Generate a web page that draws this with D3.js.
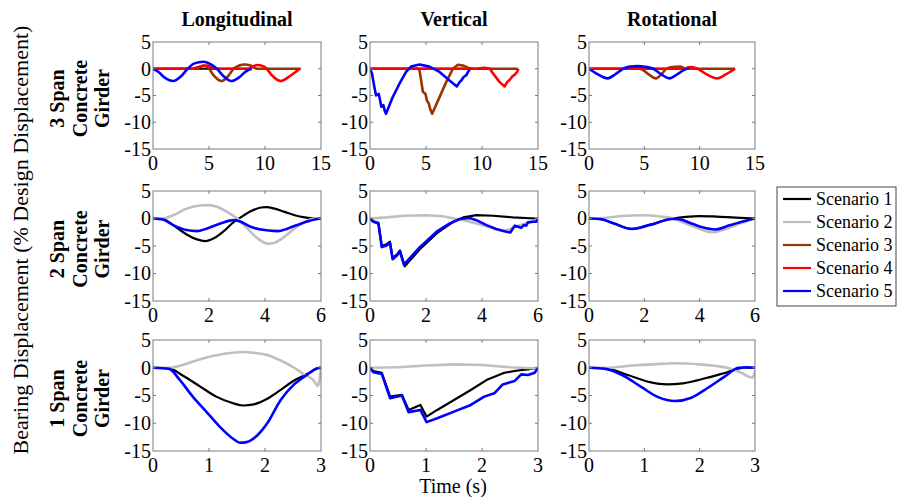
<!DOCTYPE html>
<html>
<head>
<meta charset="utf-8">
<script src="https://cdn.jsdelivr.net/npm/d3@7"></script>
<style>
body { margin: 0; background: #fff; }
</style>
</head>
<body>
<svg id="chart" width="898" height="497"></svg>
<script>
// ---- data: [time (s), displacement (% design)] ----
const scenarioNames = ["Scenario 1", "Scenario 2", "Scenario 3", "Scenario 4", "Scenario 5"];
const scenarioColors = ["#000000", "#bfbfbf", "#993300", "#ff0000", "#0000ff"];
const columnTitles = ["Longitudinal", "Vertical", "Rotational"];
const rowLabels = [["3 Span", "Concrete", "Girder"], ["2 Span", "Concrete", "Girder"], ["1 Span", "Concrete", "Girder"]];
const rowTimeMax = [15, 6, 3];
const rowTimeTicks = [[0, 5, 10, 15], [0, 2, 4, 6], [0, 1, 2, 3]];
const yTicks = [5, 0, -5, -10, -15];

// 3 span
const span3Long1 = [[0,0],[4,0],[8.8,0]];
const span3Long3 = [[0,0],[3.8,0],[4.5,0.6],[4.9,0.3],[5.4,-1.2],[6.1,-2.3],[6.7,-1.4],[7.2,0],[7.7,0.6],[8.2,0.8],[8.7,0.6],[9.3,0],[13.2,0]];
const span3Long4 = [[0,0],[3.5,0],[4.2,0.4],[4.8,0.6],[5.3,0.2],[5.8,0],[8.5,0],[9.3,0.7],[10,0.3],[10.6,-1.2],[11.4,-2.3],[12.2,-1.4],[13.1,0]];
const span3Long5 = [[0,0],[0.5,-0.6],[1,-1.6],[1.8,-2.3],[2.5,-1.4],[3.1,0],[3.7,1],[4.5,1.3],[5.1,0.9],[5.7,0],[6.3,-1.4],[7,-2.3],[7.7,-1.6],[8.3,-0.5],[8.8,0]];

const span3Vert1 = [[0,0],[4,0],[8.9,0]];
const span3Vert3 = [[0,0],[4.3,0],[4.42,-0.3],[4.57,-2.2],[4.72,-4.3],[4.96,-4.7],[5.07,-5.9],[5.25,-6.5],[5.37,-7.5],[5.55,-8.4],[6.21,-5.3],[6.8,-2.5],[7.4,0],[7.85,0.75],[8.3,0.6],[8.75,0.2],[9.19,0],[13.2,0]];
const span3Vert4 = [[0,0],[9.5,0],[10.2,0.2],[10.7,0],[10.99,-0.9],[11.58,-2.5],[12.03,-3.3],[12.24,-2.5],[12.48,-2.05],[12.72,-1.4],[12.93,-1.1],[13.13,-0.6],[13.22,-0.2],[13.25,0]];
const span3Vert5 = [[0,0],[0.18,-0.9],[0.39,-3.4],[0.54,-5],[0.78,-4.7],[0.9,-5.9],[1.01,-7.1],[1.19,-6.8],[1.31,-7.8],[1.43,-8.4],[2.03,-5.3],[2.63,-2.8],[3.22,-0.6],[3.67,0.4],[4.42,0.8],[5.31,0.4],[6.21,-0.6],[7.1,-2.2],[7.76,-3.3],[8,-2.5],[8.15,-2.2],[8.36,-1.55],[8.6,-1.2],[8.75,-0.6],[8.9,-0.2]];

const span3Rot1 = [[0,0],[4,0],[9,0]];
const span3Rot3 = [[0,0],[4.6,0],[5.3,-0.9],[6.05,-1.8],[6.6,-0.9],[7,0],[7.5,0.3],[8.2,0.4],[8.8,0],[13.2,0]];
const span3Rot4 = [[0,0],[3.8,0],[4.4,0.3],[5,0],[8.6,0],[9.1,0.3],[9.7,0.1],[10.6,-1],[11.6,-1.8],[12.4,-1],[13.2,0]];
const span3Rot5 = [[0,0],[0.6,-0.8],[1.7,-1.8],[2.4,-1],[3.1,0],[3.7,0.4],[4.4,0.5],[5.1,0.35],[5.8,0],[6.5,-1],[7.25,-1.8],[8,-1],[8.6,-0.2],[9,0.1]];

// 2 span
const span2Long1 = [[0,0],[0.36,-0.1],[0.72,-1.2],[1.2,-2.9],[1.57,-3.8],[1.87,-4.1],[2.17,-3.6],[2.53,-2.3],[2.89,-0.6],[3.13,0.2],[3.49,1.3],[3.86,2],[4.04,2.07],[4.34,1.8],[4.7,1.2],[5.06,0.6],[5.42,0.2],[5.78,0],[6,0]];
const span2Long2 = [[0,0],[0.36,0],[0.72,0.6],[1.2,1.8],[1.69,2.37],[1.99,2.43],[2.29,2.13],[2.65,1.2],[3.01,0],[3.37,-1.8],[3.73,-3.6],[4.1,-4.56],[4.34,-4.4],[4.7,-3.3],[5.06,-1.8],[5.42,-0.6],[5.78,0],[6,0]];
const span2Long5 = [[0,0],[0.36,-0.2],[0.72,-1.2],[1.2,-2.1],[1.57,-2.3],[1.93,-1.8],[2.41,-0.9],[2.89,-0.3],[3.13,-0.6],[3.49,-1.5],[3.98,-2.1],[4.46,-2.3],[4.82,-1.8],[5.3,-0.9],[5.78,-0.2],[6,0]];

const span2Vert1 = [[0,0],[0.12,-0.5],[0.3,-0.8],[0.42,-5],[0.59,-4.7],[0.71,-4.2],[0.81,-7.2],[0.97,-6.5],[1.07,-5.8],[1.24,-8.7],[1.78,-5.6],[2.38,-2.7],[2.97,-0.6],[3.33,0.2],[3.8,0.6],[4.4,0.5],[5.1,0.2],[5.9,0],[6,0]];
const span2Vert2 = [[0,0],[0.6,0.2],[1.2,0.5],[2,0.6],[2.6,0.4],[3,0],[3.5,-0.5],[4,-1.2],[4.4,-1.8],[4.75,-2.3],[5,-1.9],[5.3,-1.3],[5.6,-0.8],[6,-0.3]];
const span2Vert5 = [[0,0],[0.12,-0.6],[0.3,-0.9],[0.42,-5.2],[0.59,-4.9],[0.71,-4.4],[0.81,-7.4],[0.97,-6.7],[1.07,-6],[1.21,-8.4],[1.78,-5.2],[2.38,-2.4],[2.85,-0.9],[3.21,-0.1],[3.56,0.1],[3.8,-0.3],[4.16,-1.2],[4.51,-1.9],[4.87,-2.4],[5.01,-2.55],[5.17,-1.3],[5.29,-1.5],[5.4,-1.7],[5.49,-1.2],[5.58,-1.3],[5.64,-0.7],[5.82,-0.6],[5.94,-0.6],[6,0]];

const span2Rot1 = [[0,0],[0.4,-0.1],[0.9,-0.9],[1.55,-1.9],[2.2,-1.1],[3.05,0],[3.5,0.3],[4,0.45],[4.6,0.35],[5.3,0.15],[6,0]];
const span2Rot2 = [[0,0],[0.5,0.1],[1.2,0.45],[2,0.6],[2.6,0.35],[3.05,0],[3.5,-0.9],[4,-1.9],[4.45,-2.5],[4.9,-2],[5.4,-1],[6,0]];
const span2Rot5 = [[0,0],[0.4,-0.1],[0.9,-0.9],[1.55,-1.9],[2.2,-1.2],[3,-0.1],[3.2,-0.1],[3.7,-0.9],[4.1,-1.6],[4.55,-2],[5.1,-1.2],[5.6,-0.5],[6,0]];

// 1 span
const span1Long1 = [[0,0],[0.29,-0.1],[0.53,-1.4],[0.83,-3.3],[1.13,-5.2],[1.43,-6.4],[1.61,-6.8],[1.8,-6.6],[2.04,-5.6],[2.28,-4],[2.52,-2.3],[2.76,-1.1],[2.97,0],[3,0]];
const span1Long2 = [[0,0],[0.29,0],[0.53,0.5],[0.83,1.5],[1.13,2.25],[1.43,2.7],[1.61,2.85],[1.8,2.7],[2.04,2.3],[2.28,1.3],[2.52,0],[2.7,-1.2],[2.88,-2.4],[2.94,-3.3],[3,-0.2]];
const span1Long5 = [[0,0],[0.29,-0.2],[0.47,-2.1],[0.71,-5.2],[0.95,-7.9],[1.19,-10.6],[1.43,-12.8],[1.55,-13.5],[1.67,-13.4],[1.86,-12.2],[2.04,-10],[2.28,-5.8],[2.52,-3],[2.76,-1.2],[2.94,-0.1],[3,0]];

const span1Vert1 = [[0,0],[0.06,-0.6],[0.21,-0.9],[0.36,-5.2],[0.57,-4.9],[0.69,-7.6],[0.9,-6.7],[1.01,-8.8],[1.2,-7.6],[1.5,-5.8],[1.8,-4],[2.1,-2.1],[2.4,-0.9],[2.64,-0.5],[2.82,-0.3],[3,0]];
const span1Vert2 = [[0,0],[0.5,0.1],[1,0.4],[1.5,0.6],[2,0.5],[2.5,0.1],[2.7,0],[2.9,-0.1],[3,0]];
const span1Vert5 = [[0,0],[0.06,-0.8],[0.21,-1.1],[0.36,-5.5],[0.57,-5],[0.69,-8],[0.9,-7.6],[1.01,-9.8],[1.2,-9.1],[1.5,-7.9],[1.8,-6.7],[2.04,-5.2],[2.22,-4.6],[2.37,-3],[2.58,-2.4],[2.7,-1.2],[2.82,-1.3],[2.94,-0.9],[3,0]];

const span1Rot1 = [[0,0],[0.3,-0.1],[0.7,-1.3],[1.1,-2.6],[1.4,-3],[1.7,-2.8],[2.1,-1.9],[2.5,-0.8],[2.8,0],[3,0]];
const span1Rot2 = [[0,0],[0.3,0],[0.8,0.4],[1.3,0.7],[1.6,0.8],[2,0.6],[2.3,0.3],[2.5,0],[2.75,-0.9],[2.95,-1.8],[3,-0.6]];
const span1Rot5 = [[0,0],[0.3,-0.2],[0.6,-1.3],[0.95,-3.5],[1.25,-5.3],[1.55,-6],[1.85,-5.4],[2.15,-3.6],[2.45,-1.6],[2.7,0],[2.85,0.1],[3,0]];

// which scenarios appear in each panel [row][col] -> [scenarioIndex, series]
const panelSeries = [
  [[[0,span3Long1],[2,span3Long3],[3,span3Long4],[4,span3Long5]],
   [[0,span3Vert1],[2,span3Vert3],[3,span3Vert4],[4,span3Vert5]],
   [[0,span3Rot1],[2,span3Rot3],[3,span3Rot4],[4,span3Rot5]]],
  [[[0,span2Long1],[1,span2Long2],[4,span2Long5]],
   [[0,span2Vert1],[1,span2Vert2],[4,span2Vert5]],
   [[0,span2Rot1],[1,span2Rot2],[4,span2Rot5]]],
  [[[0,span1Long1],[1,span1Long2],[4,span1Long5]],
   [[0,span1Vert1],[1,span1Vert2],[4,span1Vert5]],
   [[0,span1Rot1],[1,span1Rot2],[4,span1Rot5]]]
];

// ---- layout ----
const FONT = "'Liberation Serif', monospace";
const FONT_ALT = "'Times New Roman', 'Liberation Serif', Tinos, monospace";
const colX = [[153, 321], [370, 538], [589, 755]];
const rowY = [[42, 149], [191, 301], [340, 451]];
const tickLen = 3;
const tickFont = 20;
const frameColor = "#7a7a7a";

const svg = d3.select("#chart");

function addText(x, y, str, size, opts) {
  opts = opts || {};
  const fam = opts.alt ? FONT_ALT : FONT;
  const t = svg.append("text")
    .attr("x", x).attr("y", y)
    .attr("text-anchor", opts.anchor || "middle")
    .attr("font-family", fam)
    .style("font-family", fam)
    .attr("font-size", size)
    .attr("font-weight", opts.bold ? "bold" : "normal")
    .text(str);
  if (opts.transform) t.attr("transform", opts.transform);
  return t;
}

// Column titles
columnTitles.forEach((t, c) => {
  addText((colX[c][0] + colX[c][1]) / 2, 26, t, 20, {bold: true});
});

// Row labels (rotated, bold, three lines)
rowLabels.forEach((lines, r) => {
  const cy = (rowY[r][0] + rowY[r][1]) / 2 + 3;
  lines.forEach((line, i) => {
    addText(0, 0, line, 20, {bold: true,
      transform: "translate(" + (64 + i * 22.5) + "," + cy + ") rotate(-90)"});
  });
});

// Shared y title and x title
addText(0, 0, "Bearing Displacement (% Design Displacement)", 22,
  {transform: "translate(28,240) rotate(-90)"});
addText(453, 493, "Time (s)", 20);

// Panels
panelSeries.forEach((rowPanels, r) => {
  rowPanels.forEach((series, c) => {
    const x = d3.scaleLinear().domain([0, rowTimeMax[r]]).range(colX[c]);
    const y = d3.scaleLinear().domain([-15, 5]).range([rowY[r][1], rowY[r][0]]);
    const g = svg.append("g");
    const clipId = "clip-" + r + "-" + c;

    g.append("clipPath").attr("id", clipId)
      .append("rect")
      .attr("x", colX[c][0]).attr("y", rowY[r][0])
      .attr("width", colX[c][1] - colX[c][0])
      .attr("height", rowY[r][1] - rowY[r][0]);

    // series lines
    const line = d3.line()
      .x(d => x(d[0]))
      .y(d => y(d[1]))
      .curve(c === 1 ? d3.curveLinear : d3.curveMonotoneX);

    const lines = g.append("g").attr("clip-path", "url(#" + clipId + ")");
    series.forEach(([s, data]) => {
      lines.append("path").datum(data)
        .attr("fill", "none")
        .attr("stroke", scenarioColors[s])
        .attr("stroke-width", s === 0 ? 2.2 : 2.6)
        .attr("stroke-linejoin", "round")
        .attr("d", line);
    });

    // frame with inward ticks on all sides (matlab box style)
    g.append("rect")
      .attr("x", colX[c][0]).attr("y", rowY[r][0])
      .attr("width", colX[c][1] - colX[c][0])
      .attr("height", rowY[r][1] - rowY[r][0])
      .attr("fill", "none")
      .attr("stroke", frameColor)
      .attr("stroke-width", 1);

    const inner = x.domain()[1];
    rowTimeTicks[r].filter(t => t > 0 && t < inner).forEach(t => {
      g.append("line").attr("x1", x(t)).attr("x2", x(t))
        .attr("y1", rowY[r][1]).attr("y2", rowY[r][1] - tickLen)
        .attr("stroke", frameColor);
      g.append("line").attr("x1", x(t)).attr("x2", x(t))
        .attr("y1", rowY[r][0]).attr("y2", rowY[r][0] + tickLen)
        .attr("stroke", frameColor);
    });
    yTicks.filter(v => v > -15 && v < 5).forEach(v => {
      g.append("line").attr("x1", colX[c][0]).attr("x2", colX[c][0] + tickLen)
        .attr("y1", y(v)).attr("y2", y(v)).attr("stroke", frameColor);
      g.append("line").attr("x1", colX[c][1]).attr("x2", colX[c][1] - tickLen)
        .attr("y1", y(v)).attr("y2", y(v)).attr("stroke", frameColor);
    });

    // tick labels
    yTicks.forEach(v => {
      addText(colX[c][0] - 2, y(v) + tickFont * 0.34, String(v), tickFont, {anchor: "end", alt: true});
    });
    rowTimeTicks[r].forEach(t => {
      addText(x(t), rowY[r][1] + 21, String(t), tickFont, {alt: true});
    });
  });
});

// Legend
svg.append("rect")
  .attr("x", 777).attr("y", 187)
  .attr("width", 119).attr("height", 119)
  .attr("fill", "#fff")
  .attr("stroke", "#444")
  .attr("stroke-width", 1);

scenarioNames.forEach((name, i) => {
  const ly = 199 + i * 23;
  svg.append("line")
    .attr("x1", 783).attr("x2", 811)
    .attr("y1", ly).attr("y2", ly)
    .attr("stroke", scenarioColors[i])
    .attr("stroke-width", 2.2);
  addText(816, ly + 6, name, 18, {anchor: "start", alt: true});
});
</script>
</body>
</html>
